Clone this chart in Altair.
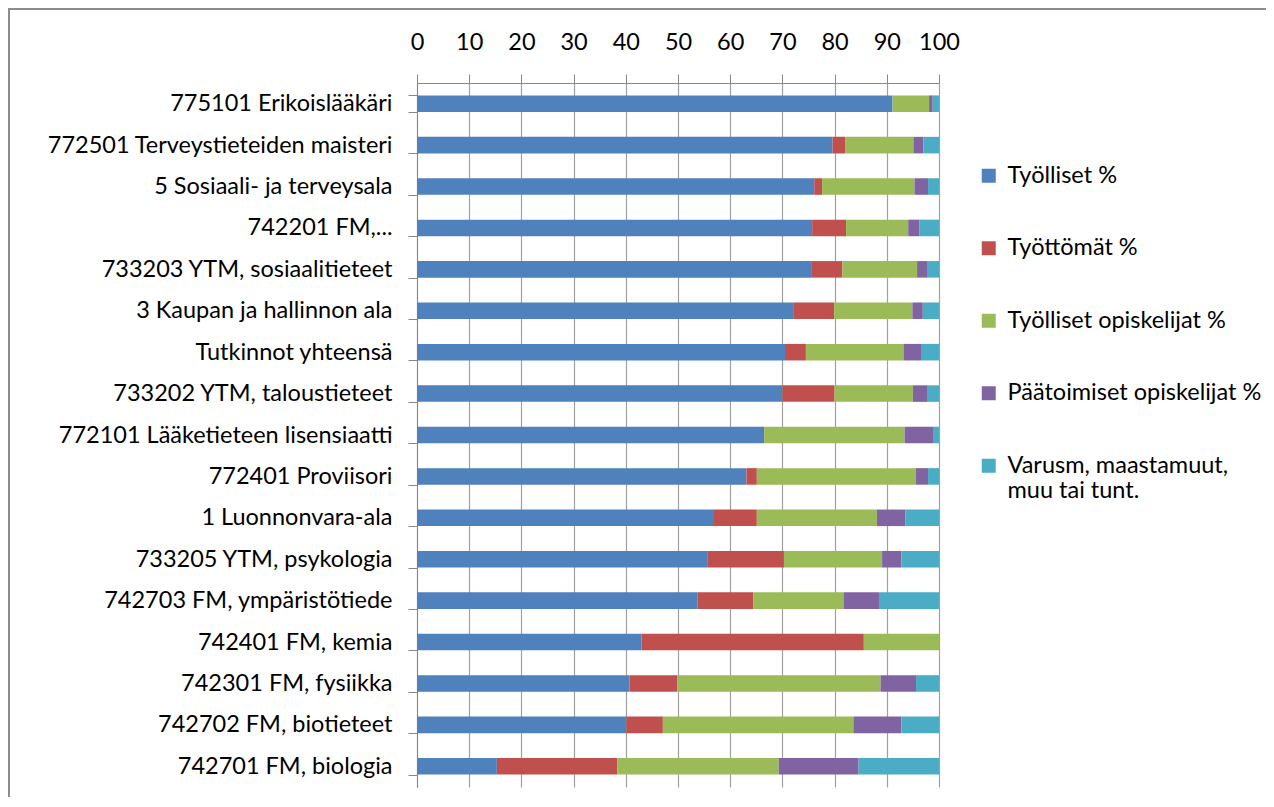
import altair as alt
import pandas as pd

categories = [
    "775101 Erikoislääkäri",
    "772501 Terveystieteiden maisteri",
    "5 Sosiaali- ja terveysala",
    "742201 FM,...",
    "733203 YTM, sosiaalitieteet",
    "3 Kaupan ja hallinnon ala",
    "Tutkinnot yhteensä",
    "733202 YTM, taloustieteet",
    "772101 Lääketieteen lisensiaatti",
    "772401 Proviisori",
    "1 Luonnonvara-ala",
    "733205 YTM, psykologia",
    "742703 FM, ympäristötiede",
    "742401 FM, kemia",
    "742301 FM, fysiikka",
    "742702 FM, biotieteet",
    "742701 FM, biologia",
]

series = [
    "Työlliset %",
    "Työttömät %",
    "Työlliset opiskelijat %",
    "Päätoimiset opiskelijat %",
    "Varusm, maastamuut, muu tai tunt.",
]
colors = ["#4F81BD", "#C0504D", "#9BBB59", "#8064A2", "#4BACC6"]

tyolliset = [91.1, 79.6, 76.1, 75.7, 75.5, 72.2, 70.5, 70.0, 66.5, 63.1, 56.9, 55.6, 53.7, 43.0, 40.7, 40.1, 15.3]
tyottomat = [0.0, 2.4, 1.5, 6.5, 6.0, 7.7, 4.0, 10.0, 0.0, 2.0, 8.2, 14.7, 10.7, 42.6, 9.2, 7.0, 23.1]
tyolliset_opiskelijat = [7.0, 13.1, 17.7, 11.9, 14.3, 15.0, 18.7, 15.0, 26.9, 30.5, 23.0, 18.8, 17.3, 14.4, 38.9, 36.5, 30.9]
paatoimiset_opiskelijat = [0.7, 1.9, 2.6, 2.1, 1.9, 2.0, 3.5, 2.7, 5.6, 2.3, 5.5, 3.7, 6.8, 0.0, 6.8, 9.2, 15.3]
muut = [1.2, 3.0, 2.1, 3.8, 2.3, 3.1, 3.3, 2.3, 1.0, 2.1, 6.4, 7.2, 11.5, 0.0, 4.4, 7.2, 15.4]

value_lists = [tyolliset, tyottomat, tyolliset_opiskelijat, paatoimiset_opiskelijat, muut]

rows = []
for i, cat in enumerate(categories):
    for j, (s, vals) in enumerate(zip(series, value_lists)):
        rows.append({"kategoria": cat, "sarja": s, "jarjestys": j, "arvo": vals[i]})
df = pd.DataFrame(rows)

FONT = "Lato"
FS = 23.5
W, H = 522, 704
PAD = {"left": 409, "top": 75, "right": 327, "bottom": 10}

bars = alt.Chart(df).mark_bar().encode(
    x=alt.X(
        "arvo:Q",
        stack="zero",
        scale=alt.Scale(domain=[0, 100], nice=False),
        axis=alt.Axis(
            orient="top",
            values=list(range(0, 101, 10)),
            title=None,
            labelFontSize=FS,
            labelFont=FONT,
            labelColor="#000000",
            labelPadding=20,
            labelFlush=False,
            labelOverlap=False,
            tickSize=9,
            tickColor="#888888",
            domainColor="#888888",
            gridColor="#a0a0a0",
            gridWidth=1.2,
        ),
    ),
    y=alt.Y(
        "kategoria:N",
        sort=categories,
        scale=alt.Scale(paddingInner=0.6, paddingOuter=0.3),
        axis=alt.Axis(
            title=None,
            grid=False,
            tickBand="extent",
            tickSize=9,
            tickColor="#888888",
            domainColor="#888888",
            labelFontSize=FS,
            labelFont=FONT,
            labelColor="#000000",
            labelPadding=16,
            labelLimit=400,
        ),
    ),
    color=alt.Color(
        "sarja:N",
        scale=alt.Scale(domain=series, range=colors),
        legend=alt.Legend(
            title=None,
            orient="none",
            legendX=560,
            legendY=81,
            symbolType="square",
            symbolSize=196,
            symbolStrokeWidth=0,
            labelFont=FONT,
            labelFontSize=FS,
            labelColor="#000000",
            labelOffset=7,
            labelLimit=400,
            rowPadding=47.5,
            labelExpr="datum.label == 'Varusm, maastamuut, muu tai tunt.' ? ['Varusm, maastamuut,', 'muu tai tunt.'] : datum.label",
        ),
    ),
    order=alt.Order("jarjestys:Q"),
)

border = alt.Chart(pd.DataFrame({"k": [0]})).mark_rect(
    fill=None, stroke="#8c8c8c", strokeWidth=2
).encode(
    x=alt.value(-PAD["left"] + 1),
    y=alt.value(-PAD["top"] + 1),
    x2=alt.value(W + PAD["right"] + 20),
    y2=alt.value(H + PAD["bottom"] + 20),
)

chart = alt.layer(bars, border).properties(
    width=W,
    height=H,
    padding=PAD,
    autosize=alt.AutoSizeParams(type="none"),
).configure_view(strokeWidth=0)

chart.save("out.html", embed_options={"renderer": "svg", "actions": False})
